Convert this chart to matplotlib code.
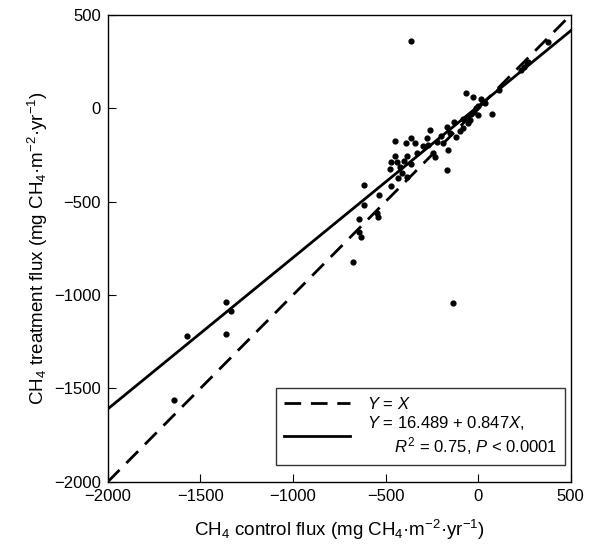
import matplotlib
matplotlib.use('Agg')
import matplotlib.pyplot as plt

plt.rcParams['font.family'] = ['Liberation Sans', 'DejaVu Sans']
plt.rcParams['mathtext.fontset'] = 'custom'
plt.rcParams['mathtext.rm'] = 'Liberation Sans'
plt.rcParams['mathtext.it'] = 'Liberation Sans:italic'

# control flux (x) vs treatment flux (y), mg CH4 m-2 yr-1
control = [-1644, -1573, -1363, -1336, -1363, -677, -645, -630, -618, -618,
           -645, -542, -537, -548, -472, -477, -472, -450, -450, -423,
           -413, -434, -386, -386, -391, -364, -342, -332, -400, -360,
           -440, -277, -261, -272, -245, -234, -170, -164, -191, -170,
           -132, -121, -100, -83, -67, -29, -62, -45, -56, -20,
           -2, -10, 25, 36, 15, 73, 111, 230, 245, 262,
           270, 376, -360, -137, -300, -200, -220, -150, -80, -40, 0]
treatment = [-1561, -1218, -1036, -1085, -1208, -822, -660, -690, -517, -410,
             -592, -581, -464, -560, -415, -324, -287, -255, -174, -314,
             -346, -373, -367, -255, -185, -158, -185, -239, -280, -300,
             -290, -158, -116, -196, -239, -260, -330, -223, -185, -100,
             -73, -153, -120, -105, 82, 61, -45, -62, -78, -20,
             -35, 0, 34, 29, 50, -30, 98, 206, 220, 243,
             250, 355, 360, -1045, -200, -150, -180, -130, -60, -30, 10]

# 1:1 line and regression line (as drawn)
one_x = [-2000, 500]
one_y = [-2000, 500]
fit_x = [-2000, 500]
fit_y = [-1610, 415]

ticks = [-2000, -1500, -1000, -500, 0, 500]

fig = plt.figure(figsize=(5.89, 5.5), dpi=100)
ax = fig.add_axes([0.183, 0.124, 0.786, 0.849])

ax.plot(one_x, one_y, color='black', linestyle=(0, (6, 3.5)), linewidth=2,
        label=r'$Y$ = $X$')
ax.plot(fit_x, fit_y, color='black', linestyle='-', linewidth=2,
        label=r'$Y$ = 16.489 + 0.847$X$,' + '\n' + r'      $R^2$ = 0.75, $P$ < 0.0001')
ax.scatter(control, treatment, s=12, color='black', zorder=3)

ax.set_xlim(-2000, 500)
ax.set_ylim(-2000, 500)
ax.set_xticks(ticks)
ax.set_yticks(ticks)
ax.tick_params(direction='in', length=6, width=0.8, labelsize=12, pad=5,
               top=False, right=False)
for s in ax.spines.values():
    s.set_linewidth(1.0)

ax.set_xlabel('CH$_4$ control flux (mg CH$_4$·m$^{-2}$·yr$^{-1}$)', fontsize=13.5, labelpad=10)
ax.set_ylabel('CH$_4$ treatment flux (mg CH$_4$·m$^{-2}$·yr$^{-1}$)', fontsize=13.5, labelpad=3)

leg = ax.legend(loc='lower right', bbox_to_anchor=(0.987, 0.036), borderaxespad=0,
                fontsize=12, frameon=True, fancybox=False, edgecolor='black',
                handlelength=4.0, handletextpad=1.0, borderpad=0.45, labelspacing=0.15)
leg.get_frame().set_linewidth(1.0)

fig.savefig('out.png', dpi=100)
